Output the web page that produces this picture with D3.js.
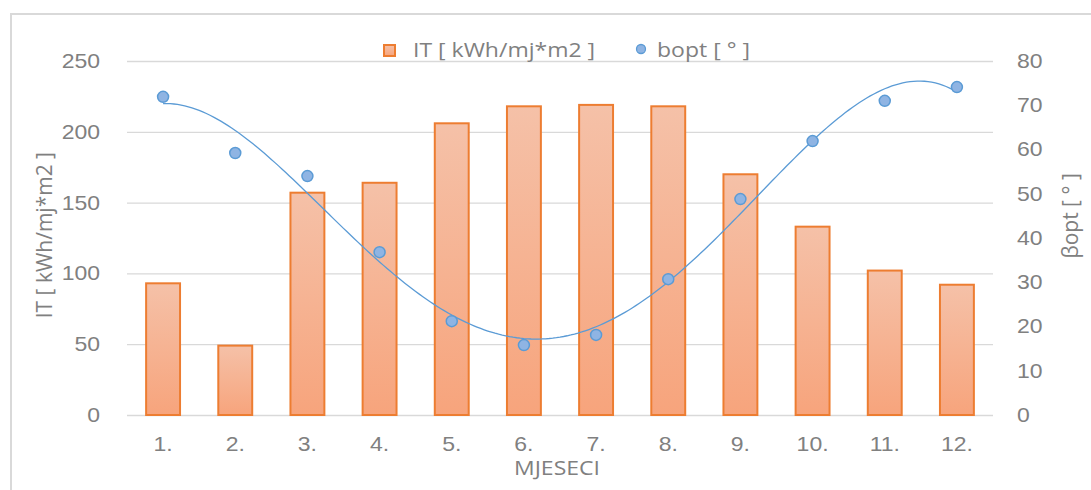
<!DOCTYPE html>
<html>
<head>
<meta charset="utf-8">
<script src="https://cdn.jsdelivr.net/npm/d3@7"></script>
<style>
    body { margin: 0; background: #fff; }
    svg { display: block; font-family: "Open Sans", sans-serif; }
    .tick text { fill: #808080; font-size: 20px; }
</style>
</head>
<body>
<svg id="chart" width="1091" height="490"></svg>
<script>
// data
var months = ["1.", "2.", "3.", "4.", "5.", "6.", "7.", "8.", "9.", "10.", "11.", "12."];
var itValues = [93, 49, 157, 164, 206, 218, 219, 218, 170, 133, 102, 92];
var boptValues = [71.9, 59.2, 54.0, 36.8, 21.2, 15.8, 18.1, 30.7, 48.8, 61.9, 71.0, 74.1];
var leftTicks = [0, 50, 100, 150, 200, 250];
var rightTicks = [0, 10, 20, 30, 40, 50, 60, 70, 80];

// all the functions, fields should be put under this object
chart = {};

chart.margins = { top: 61, bottom: 75, left: 127, right: 98 };
chart.textColor = "#808080";
chart.gridColor = "#d9d9d9";
chart.barStroke = "#ed7d31";
chart.dotFill = "#8fb4e3";
chart.dotStroke = "#5b9bd5";
chart.trendOrder = 4;
// the picture's text is a bit wider than the font, so stretch it
chart.stretchX = 1.15;

/**
 * least squares polynomial fit, like the spreadsheet trendline
 * @param {array} xs x values
 * @param {array} ys y values
 * @param {number} order order of the polynomial
 */
chart.polyFit = function(xs, ys, order) {
    var n = order + 1;
    var a = [];
    for (var r = 0; r < n; r++) {
        a.push([]);
        for (var c = 0; c <= n; c++) a[r].push(0);
    }
    xs.forEach((x, i) => {
        for (var r = 0; r < n; r++) {
            for (var c = 0; c < n; c++) a[r][c] += Math.pow(x, r + c);
            a[r][n] += ys[i] * Math.pow(x, r);
        }
    });
    // gaussian elimination
    for (var k = 0; k < n; k++) {
        var p = k;
        for (var r = k + 1; r < n; r++) {
            if (Math.abs(a[r][k]) > Math.abs(a[p][k])) p = r;
        }
        var tmp = a[k]; a[k] = a[p]; a[p] = tmp;
        for (var r = k + 1; r < n; r++) {
            var f = a[r][k] / a[k][k];
            for (var c = k; c <= n; c++) a[r][c] -= f * a[k][c];
        }
    }
    var coef = new Array(n).fill(0);
    for (var r = n - 1; r >= 0; r--) {
        var s = a[r][n];
        for (var c = r + 1; c < n; c++) s -= a[r][c] * coef[c];
        coef[r] = s / a[r][r];
    }
    return function(x) {
        return coef.reduce((acc, cf, i) => acc + cf * Math.pow(x, i), 0);
    };
};

/**
 * widen horizontal texts, keeping their anchor point in place
 */
chart.stretch = function(sel) {
    var k = this.stretchX;
    sel.each(function() {
        var t = d3.select(this);
        var x = +(t.attr("x") || 0);
        t.attr("x", x / k).attr("transform", `scale(${k},1)`);
    });
};

chart.init = function() {
    var svg = d3.select("#chart");
    var W = +svg.attr("width"), H = +svg.attr("height");
    this.width = W - this.margins.left - this.margins.right;
    this.height = H - this.margins.top - this.margins.bottom;

    this.x = d3.scaleBand().domain(months).range([0, this.width])
        .paddingInner(0.53).paddingOuter(0.265);
    this.yL = d3.scaleLinear().domain([0, 250]).range([this.height, 0]);
    this.yR = d3.scaleLinear().domain([0, 80]).range([this.height, 0]);

    // chart frame (only left and top edges are visible in the picture)
    svg.append("path")
        .attr("d", "M11,490V14H1091")
        .attr("fill", "none")
        .attr("stroke", this.gridColor)
        .attr("stroke-width", 2);

    // gradient of the bars
    var grad = svg.append("defs").append("linearGradient")
        .attr("id", "barGrad")
        .attr("x1", 0).attr("y1", 0).attr("x2", 0).attr("y2", 1);
    grad.append("stop").attr("offset", "0%").attr("stop-color", "#f5c1a8");
    grad.append("stop").attr("offset", "100%").attr("stop-color", "#f7a47c");

    this.g = svg.append("g")
        .attr("transform", `translate(${this.margins.left}, ${this.margins.top})`);

    this.drawAxes();
    this.drawBars();
    this.drawLine();
    this.drawLegend(svg);
};

chart.drawAxes = function() {
    // Gridlines
    this.g.append("g")
        .attr("class", "grid")
        .call(d3.axisLeft(this.yL).tickValues(leftTicks)
            .tickSize(-this.width).tickFormat(""))
        .call((g) => g.select(".domain").remove())
        .selectAll("line")
        .attr("stroke", this.gridColor)
        .attr("stroke-width", 1.3);

    // Left tick labels
    this.g.append("g")
        .call(d3.axisLeft(this.yL).tickValues(leftTicks).tickSize(0).tickPadding(27))
        .call((g) => g.select(".domain").remove())
        .selectAll("text").call((s) => this.stretch(s));

    // Right tick labels
    this.g.append("g")
        .attr("transform", `translate(${this.width}, 0)`)
        .call(d3.axisRight(this.yR).tickValues(rightTicks).tickSize(0).tickPadding(24))
        .call((g) => g.select(".domain").remove())
        .selectAll("text").call((s) => this.stretch(s));

    // Bottom labels
    this.g.append("g")
        .attr("transform", `translate(0, ${this.height})`)
        .call(d3.axisBottom(this.x).tickSize(0).tickPadding(22))
        .call((g) => g.select(".domain").remove())
        .selectAll("text").call((s) => this.stretch(s));

    // Axis titles
    this.g.append("text")
        .attr("transform", `translate(${45 - this.margins.left}, ${this.yL(127)}) rotate(-90)`)
        .attr("text-anchor", "middle")
        .attr("dy", "0.35em")
        .attr("fill", this.textColor)
        .style("font-size", "21px")
        .text("IT [ kWh/mj*m2 ]");

    this.g.append("text")
        .attr("transform", `translate(${this.width + 78}, ${this.yR(45)}) rotate(-90)`)
        .attr("text-anchor", "middle")
        .attr("dy", "0.35em")
        .attr("fill", this.textColor)
        .style("font-size", "21px")
        .text("βopt [ ° ]");

    this.g.append("text")
        .attr("x", this.width / 2 - 3)
        .attr("y", this.height + 60)
        .attr("text-anchor", "middle")
        .attr("fill", this.textColor)
        .style("font-size", "20px")
        .text("MJESECI")
        .call((s) => this.stretch(s));
};

chart.drawBars = function() {
    this.g.append("g")
        .selectAll("rect")
        .data(itValues)
        .enter()
        .append("rect")
        .attr("x", (d, i) => this.x(months[i]))
        .attr("y", (d) => this.yL(d))
        .attr("width", this.x.bandwidth())
        .attr("height", (d) => this.height - this.yL(d))
        .attr("fill", "url(#barGrad)")
        .attr("stroke", this.barStroke)
        .attr("stroke-width", 2);
};

chart.drawLine = function() {
    var xs = months.map((m, i) => i + 1);
    var fit = this.polyFit(xs, boptValues, this.trendOrder);
    var xc = d3.scaleLinear().domain([1, 12])
        .range([this.x(months[0]) + this.x.bandwidth() / 2,
            this.x(months[11]) + this.x.bandwidth() / 2]);

    var pts = d3.range(1, 12.001, 0.05);
    var line = d3.line()
        .x((d) => xc(d))
        .y((d) => this.yR(fit(d)));

    this.g.append("path")
        .datum(pts)
        .attr("d", line)
        .attr("fill", "none")
        .attr("stroke", this.dotStroke)
        .attr("stroke-width", 1.3);

    this.g.append("g")
        .selectAll("circle")
        .data(boptValues)
        .enter()
        .append("circle")
        .attr("cx", (d, i) => xc(i + 1))
        .attr("cy", (d) => this.yR(d))
        .attr("r", 5.5)
        .attr("fill", this.dotFill)
        .attr("stroke", this.dotStroke)
        .attr("stroke-width", 1.5);
};

chart.drawLegend = function(svg) {
    var lg = svg.append("g");
    lg.append("rect")
        .attr("x", 384).attr("y", 45)
        .attr("width", 11).attr("height", 11)
        .attr("fill", "url(#barGrad)")
        .attr("stroke", this.barStroke)
        .attr("stroke-width", 2);
    lg.append("text")
        .attr("x", 413).attr("y", 57)
        .attr("fill", this.textColor)
        .style("font-size", "20px")
        .text("IT [ kWh/mj*m2 ]")
        .call((s) => this.stretch(s));
    lg.append("circle")
        .attr("cx", 641).attr("cy", 49).attr("r", 4.5)
        .attr("fill", this.dotFill)
        .attr("stroke", this.dotStroke)
        .attr("stroke-width", 1.3);
    lg.append("text")
        .attr("x", 657).attr("y", 57)
        .attr("fill", this.textColor)
        .style("font-size", "20px")
        .text("bopt [ ° ]")
        .call((s) => this.stretch(s));
};

chart.init();
</script>
</body>
</html>
